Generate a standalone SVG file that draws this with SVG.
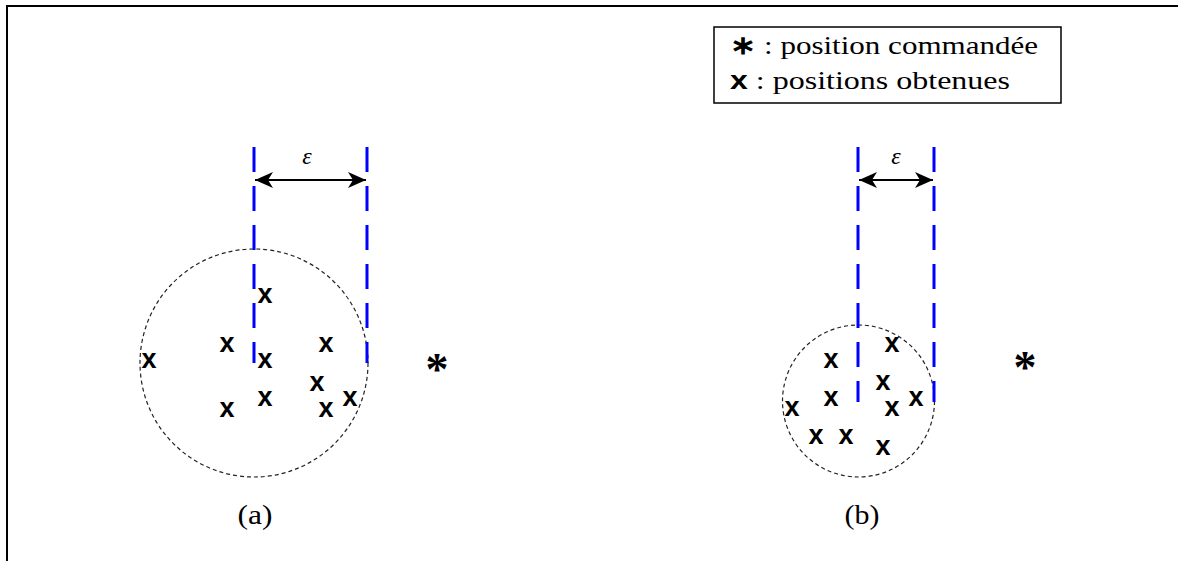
<svg xmlns="http://www.w3.org/2000/svg" width="1178" height="561" viewBox="0 0 1178 561">
<defs>
<style>
.guide{stroke:#0000ff;stroke-width:3;stroke-dasharray:25 14;fill:none}
.circ{stroke:#222;stroke-width:1.2;stroke-dasharray:4 3;fill:none}
.dim{stroke:#000;stroke-width:2;fill:none}
.pt{font-family:"Liberation Sans",Arial,sans-serif;font-weight:bold;font-size:27px;text-anchor:middle;fill:#000}
.star{font-family:"Liberation Serif","Times New Roman",serif;font-weight:bold;font-size:46px;text-anchor:middle;fill:#000}
.lbl{font-family:"Liberation Serif","Times New Roman",serif;font-size:28px;text-anchor:middle;fill:#000}
.eps{font-family:"Liberation Serif","Times New Roman",serif;font-style:italic;font-size:24px;text-anchor:middle;fill:#000}
.leg{font-family:"Liberation Serif","Times New Roman",serif;font-size:26px;fill:#000}
.b{font-weight:bold;font-family:"Liberation Sans",Arial,sans-serif}
</style>
<marker id="ah" viewBox="0 0 18 16" refX="18" refY="8" markerWidth="18" markerHeight="16" markerUnits="userSpaceOnUse" orient="auto-start-reverse">
<path d="M0,0 L18,8 L0,16 L5,8 Z" fill="#000"/>
</marker>
</defs>
<rect width="1178" height="561" fill="#fff"/>
<path d="M7,561 L7,6 L1178,6" stroke="#000" stroke-width="2" fill="none"/>

<g id="legend">
<rect x="714" y="27" width="347" height="76" fill="#fff" stroke="#000" stroke-width="1.5"/>
<text class="leg" x="730" y="54" textLength="308" lengthAdjust="spacingAndGlyphs"><tspan font-weight="bold">∗</tspan> : position commandée</text>
<text class="leg" x="730" y="89" textLength="280" lengthAdjust="spacingAndGlyphs"><tspan class="b">x</tspan> : positions obtenues</text>
</g>

<g id="panel-a">
<circle class="circ" cx="254" cy="363" r="114"/>
<g class="pt">
<text x="265" y="303">x</text>
<text x="227" y="352">x</text>
<text x="149" y="368">x</text>
<text x="265" y="368">x</text>
<text x="326" y="352">x</text>
<text x="317" y="391">x</text>
<text x="265" y="406">x</text>
<text x="227" y="417">x</text>
<text x="326" y="417">x</text>
<text x="350" y="406">x</text>
</g>
<text class="star" x="437" y="385">*</text>
<text class="eps" x="307" y="164">ε</text>
<text class="lbl" x="255" y="524" textLength="35" lengthAdjust="spacingAndGlyphs">(a)</text>
</g>

<g id="panel-b">
<circle class="circ" cx="858.5" cy="401" r="76"/>
<g class="pt">
<text x="892" y="352">x</text>
<text x="831" y="368">x</text>
<text x="883" y="390">x</text>
<text x="831" y="406">x</text>
<text x="916" y="406">x</text>
<text x="892" y="416">x</text>
<text x="792" y="416">x</text>
<text x="816" y="444">x</text>
<text x="846" y="444">x</text>
<text x="883" y="455">x</text>
</g>
<text class="star" x="1025" y="383">*</text>
<text class="eps" x="896" y="164">ε</text>
<text class="lbl" x="862" y="524" textLength="35" lengthAdjust="spacingAndGlyphs">(b)</text>
</g>

<g id="connectors">
<line class="guide" x1="254" y1="147" x2="254" y2="363"/>
<line class="guide" x1="367" y1="147" x2="367" y2="363"/>
<line class="dim" x1="255" y1="180" x2="366" y2="180" marker-start="url(#ah)" marker-end="url(#ah)"/>
<line class="guide" x1="858" y1="147" x2="858" y2="402"/>
<line class="guide" x1="934" y1="147" x2="934" y2="402"/>
<line class="dim" x1="859" y1="180" x2="933" y2="180" marker-start="url(#ah)" marker-end="url(#ah)"/>
</g>
</svg>
